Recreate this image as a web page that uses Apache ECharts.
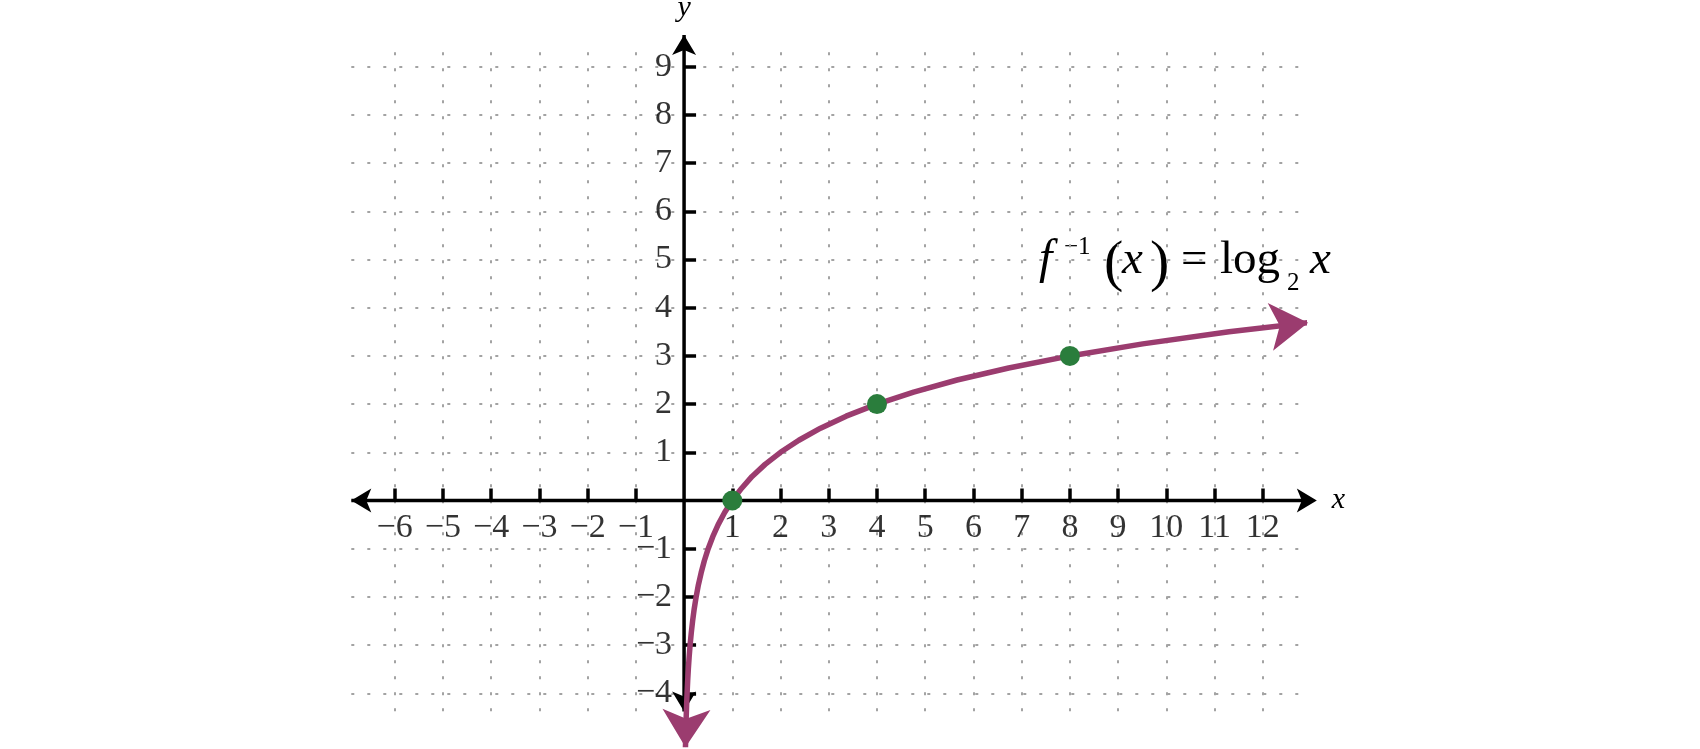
<!DOCTYPE html>
<html>
<head>
<meta charset="utf-8">
<script src="https://cdn.jsdelivr.net/npm/echarts@6/dist/echarts.min.js"></script>
<style>
  html, body { margin: 0; padding: 0; background: #fff; }
  #chart { width: 1700px; height: 749px; }
</style>
</head>
<body>
<div id="chart"></div>
<script>
  var xTicks = [-6, -5, -4, -3, -2, -1, 1, 2, 3, 4, 5, 6, 7, 8, 9, 10, 11, 12];
  var yTicks = [-4, -3, -2, -1, 1, 2, 3, 4, 5, 6, 7, 8, 9];

  // points, first and last are the arrow tips
  var curveX = [0.029, 0.044, 0.0526, 0.0625, 0.0743, 0.0884, 0.105, 0.125, 0.149, 0.177, 0.21, 0.25,
    0.297, 0.354, 0.42, 0.5, 0.595, 0.707, 0.841, 1, 1.19, 1.41, 1.68, 2, 2.38, 2.83, 3.36, 4,
    4.76, 5.66, 6.73, 8, 9.51, 11.3, 12.94];
  var curveY = [-5.12, -4.5, -4.25, -4, -3.75, -3.5, -3.25, -3, -2.75, -2.5, -2.25, -2,
    -1.75, -1.5, -1.25, -1, -0.75, -0.5, -0.25, 0, 0.25, 0.5, 0.75, 1, 1.25, 1.5, 1.75, 2,
    2.25, 2.5, 2.75, 3, 3.25, 3.5, 3.69];

  var dotX = [1, 4, 8];
  var dotY = [0, 2, 3];

  // arrow tips of the two axes
  var xAxisEnds = [-6.9, 13.12];
  var yAxisEnds = [-4.38, 9.66];

  var serif = 'Liberation Serif';
  var purple = '#9b3c6f';
  var green = '#2a7d3c';

  function minus(v) {
    return String(v).replace('-', '\u2212');
  }

  // one piece of the formula label, placed by its baseline
  function piece(text, x, baseline, size, italic) {
    return {
      type: 'text',
      x: x,
      y: baseline - 0.3375 * size,
      silent: true,
      style: {
        text: text,
        fill: '#000',
        font: (italic ? 'italic ' : '') + size + 'px "' + serif + '"',
        align: 'left',
        verticalAlign: 'middle'
      }
    };
  }

  var curveData = curveX.map(function (x, i) {
    return { value: [x, curveY[i]] };
  });
  curveData[0].symbol = 'arrow';
  curveData[0].symbolRotate = 178.5;
  curveData[curveData.length - 1].symbol = 'arrow';
  curveData[curveData.length - 1].symbolRotate = -83.6;

  var chart = echarts.init(document.getElementById('chart'));

  var option = {
    animation: false,
    grid: {
      left: 351.3,
      right: 396.2,
      top: 52.3,
      bottom: 26.8,
      outerBoundsMode: 'none'
    },
    xAxis: {
      type: 'value',
      min: -6.9,
      max: 12.85,
      name: 'x',
      nameLocation: 'end',
      nameGap: 28,
      nameTextStyle: { fontFamily: serif, fontStyle: 'italic', fontSize: 30, color: '#000', verticalAlign: 'middle' },
      axisLine: { show: true, onZero: true, lineStyle: { color: 'rgba(0,0,0,0)' } },
      axisTick: {
        show: true, inside: true, length: 12, customValues: xTicks,
        lineStyle: { color: '#000', width: 3.5 }
      },
      axisLabel: { show: false, customValues: xTicks },
      splitLine: {
        show: true,
        lineStyle: { color: '#a3a3a3', width: 2, type: [3, 13] }
      }
    },
    yAxis: {
      type: 'value',
      min: -4.6,
      max: 9.3,
      name: 'y',
      nameLocation: 'end',
      nameGap: 29,
      nameTextStyle: { fontFamily: serif, fontStyle: 'italic', fontSize: 30, color: '#000' },
      axisLine: { show: true, onZero: true, lineStyle: { color: 'rgba(0,0,0,0)' } },
      axisTick: {
        show: true, inside: true, length: 12, customValues: yTicks,
        lineStyle: { color: '#000', width: 3.5 }
      },
      axisLabel: { show: false, customValues: yTicks },
      splitLine: {
        show: true,
        lineStyle: { color: '#a3a3a3', width: 2, type: [3, 13] }
      }
    },
    graphic: [
      piece('f', 1039, 277, 48, true),
      piece('\u22121', 1064, 256, 25, false),
      piece('(', 1104, 284, 58, false),
      piece('x', 1122, 277, 47, true),
      piece(')', 1150, 284, 58, false),
      piece('=', 1181, 277, 47, false),
      piece('log', 1220, 277, 47, false),
      piece('2', 1287, 292, 25, false),
      piece('x', 1310, 277, 47, true)
    ],
    series: [
      {
        name: 'x axis',
        type: 'line',
        silent: true,
        clip: false,
        z: 2,
        symbol: 'none',
        symbolSize: [18, 20],
        itemStyle: { color: '#000' },
        lineStyle: { color: '#000', width: 3.5 },
        data: [
          { value: [xAxisEnds[0], 0], symbol: 'arrow', symbolRotate: 90 },
          { value: [xAxisEnds[1], 0], symbol: 'arrow', symbolRotate: -90 }
        ]
      },
      {
        name: 'y axis',
        type: 'line',
        silent: true,
        clip: false,
        z: 2,
        symbol: 'none',
        symbolSize: [18, 20],
        itemStyle: { color: '#000' },
        lineStyle: { color: '#000', width: 3.5 },
        data: [
          { value: [0, yAxisEnds[0]], symbol: 'arrow', symbolRotate: 180 },
          { value: [0, yAxisEnds[1]], symbol: 'arrow', symbolRotate: 0 }
        ]
      },
      {
        name: 'x labels',
        type: 'scatter',
        silent: true,
        z: 2,
        symbolSize: 1,
        itemStyle: { color: 'rgba(0,0,0,0)' },
        label: {
          show: true, position: 'bottom', distance: 10.5,
          fontFamily: serif, fontSize: 34, color: '#000',
          formatter: function (p) { return minus(p.value[0]); }
        },
        data: xTicks.map(function (v) { return [v, 0]; })
      },
      {
        name: 'y labels',
        type: 'scatter',
        silent: true,
        z: 2,
        symbolSize: 1,
        itemStyle: { color: 'rgba(0,0,0,0)' },
        label: {
          show: true, position: 'left', distance: 11.5,
          fontFamily: serif, fontSize: 34, color: '#000',
          formatter: function (p) { return minus(p.value[1]); }
        },
        data: yTicks.map(function (v) { return [0, v]; })
      },
      {
        name: 'log2',
        type: 'line',
        silent: true,
        clip: false,
        z: 3,
        symbol: 'none',
        symbolSize: [36, 38],
        itemStyle: { color: purple },
        lineStyle: { color: purple, width: 5.5, join: 'round' },
        data: curveData
      },
      {
        name: 'points',
        type: 'scatter',
        silent: true,
        z: 4,
        symbol: 'circle',
        symbolSize: 20,
        itemStyle: { color: green, opacity: 1 },
        data: dotX.map(function (x, i) { return [x, dotY[i]]; })
      }
    ]
  };

  chart.setOption(option);
</script>
</body>
</html>
